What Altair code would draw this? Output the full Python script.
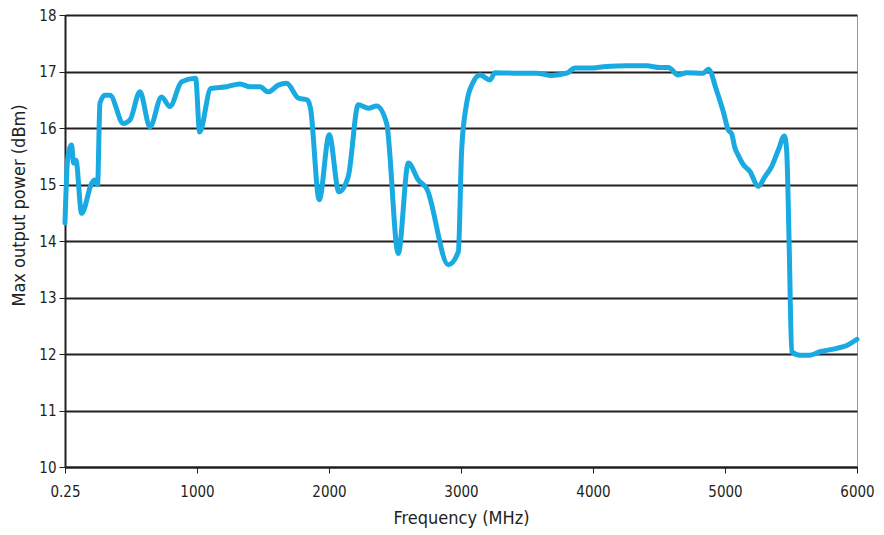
import altair as alt
import pandas as pd

freq = [0.25, 20, 50, 65, 83, 126, 202, 222, 247, 265, 303, 341, 442, 492, 568, 644, 732, 795,
        884, 990, 1020, 1105, 1225, 1326, 1402, 1477, 1540, 1616, 1679, 1768, 1835, 1860,
        1926, 2002, 2075, 2146, 2222, 2298, 2361, 2437, 2525, 2601, 2677, 2740, 2904, 2980,
        3005, 3043, 3090, 3144, 3220, 3258, 3422, 3573, 3687, 3801, 3864, 3977, 4104, 4255,
        4407, 4508, 4571, 4646, 4710, 4836, 4874, 4937, 4987, 5026, 5050, 5076, 5100, 5139,
        5189, 5252, 5303, 5354, 5404, 5450, 5467, 5487, 5505, 5568, 5644, 5720, 5846, 5922, 6000]
power = [14.32, 15.45, 15.70, 15.38, 15.43, 14.49, 15.02, 15.08, 15.00, 16.44, 16.58, 16.58,
         16.08, 16.14, 16.64, 16.02, 16.55, 16.38, 16.82, 16.88, 15.93, 16.70, 16.73, 16.78,
         16.73, 16.73, 16.64, 16.76, 16.79, 16.53, 16.50, 16.35, 14.73, 15.88, 14.87, 15.14,
         16.41, 16.35, 16.39, 16.08, 13.78, 15.38, 15.08, 14.93, 13.58, 13.81, 15.61, 16.44,
         16.80, 16.94, 16.85, 16.98, 16.97, 16.97, 16.93, 16.97, 17.06, 17.06, 17.09, 17.10,
         17.10, 17.07, 17.07, 16.94, 16.98, 16.97, 17.04, 16.66, 16.29, 15.96, 15.90, 15.64,
         15.52, 15.35, 15.23, 14.97, 15.14, 15.32, 15.61, 15.86, 15.61, 13.84, 12.04, 11.98,
         11.98, 12.04, 12.10, 12.15, 12.26]

x_ticks = [0.25, 1000, 2000, 3000, 4000, 5000, 6000]
y_ticks = [10, 11, 12, 13, 14, 15, 16, 17, 18]

df = pd.DataFrame({"f": freq, "p": power})

FONT = "DejaVu Sans Condensed"

chart = alt.Chart(df).mark_line(
    color="#19aae2", strokeWidth=5, interpolate="monotone", strokeJoin="round", strokeCap="round"
).encode(
    x=alt.X("f:Q", scale=alt.Scale(domain=[0.25, 6000], nice=False, zero=False),
            axis=alt.Axis(title="Frequency (MHz)", values=x_ticks,
                          labelExpr="datum.value < 1 ? '0.25' : format(datum.value, 'd')",
                          grid=False, tickSize=6, tickColor="#231f20", domainColor="#231f20",
                          domainWidth=2, labelPadding=11, titlePadding=10, labelFlush=False)),
    y=alt.Y("p:Q", scale=alt.Scale(domain=[10, 18], nice=False, zero=False),
            axis=alt.Axis(title="Max output power (dBm)", values=y_ticks, format="d",
                          grid=True, gridColor="#231f20", gridWidth=2, tickSize=6,
                          tickColor="#231f20", domainColor="#231f20", domainWidth=2,
                          labelPadding=3, titleX=-46, titleY=190, titleBaseline="middle",
                          labelFlush=False)),
).properties(
    width=792, height=452,
    autosize=alt.AutoSizeParams(type="none"),
    padding={"left": 57, "top": 7, "right": 19, "bottom": 62},
).configure_view(
    stroke="#999999", strokeWidth=1
).configure_axis(
    labelFont=FONT, titleFont=FONT, labelFontSize=15, titleFontSize=18,
    labelColor="#231f20", titleColor="#231f20", titleFontWeight="normal"
)

chart.save("out.html", embed_options={"renderer": "svg", "actions": False})
